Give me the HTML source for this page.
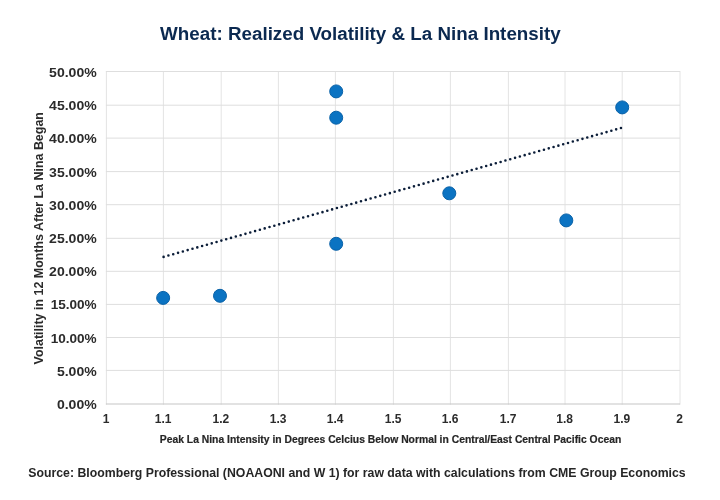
<!DOCTYPE html>
<html><head><meta charset="utf-8"><title>Wheat: Realized Volatility &amp; La Nina Intensity</title>
<style>
html,body{margin:0;padding:0;background:#fff;}
body{width:720px;height:500px;overflow:hidden;}
svg{display:block;}
text{font-family:"Liberation Sans",Arial,sans-serif;font-weight:bold;}
.tick{font-size:12.4px;fill:#2b2b2b;}
.xt{font-size:12px;fill:#2b2b2b;}
</style></head><body>
<svg width="720" height="500" viewBox="0 0 720 500">
<rect width="720" height="500" fill="#fff"/>

<g stroke="#e4e4e4" stroke-width="1" fill="none">
<line x1="106.40" y1="71.00" x2="106.40" y2="404.70"/>
<line x1="163.40" y1="71.00" x2="163.40" y2="404.70"/>
<line x1="221.20" y1="71.00" x2="221.20" y2="404.70"/>
<line x1="278.40" y1="71.00" x2="278.40" y2="404.70"/>
<line x1="335.40" y1="71.00" x2="335.40" y2="404.70"/>
<line x1="393.40" y1="71.00" x2="393.40" y2="404.70"/>
<line x1="450.40" y1="71.00" x2="450.40" y2="404.70"/>
<line x1="508.40" y1="71.00" x2="508.40" y2="404.70"/>
<line x1="565.00" y1="71.00" x2="565.00" y2="404.70"/>
<line x1="622.20" y1="71.00" x2="622.20" y2="404.70"/>
<line x1="680.00" y1="71.00" x2="680.00" y2="404.70"/>
</g>
<g stroke="#dedede" stroke-width="1" fill="none">
<line x1="105.90" y1="370.40" x2="680.00" y2="370.40"/>
<line x1="105.90" y1="337.50" x2="680.00" y2="337.50"/>
<line x1="105.90" y1="304.40" x2="680.00" y2="304.40"/>
<line x1="105.90" y1="271.30" x2="680.00" y2="271.30"/>
<line x1="105.90" y1="238.30" x2="680.00" y2="238.30"/>
<line x1="105.90" y1="204.70" x2="680.00" y2="204.70"/>
<line x1="105.90" y1="171.60" x2="680.00" y2="171.60"/>
<line x1="105.90" y1="138.10" x2="680.00" y2="138.10"/>
<line x1="105.90" y1="105.20" x2="680.00" y2="105.20"/>
<line x1="105.90" y1="71.50" x2="680.00" y2="71.50"/>
</g>
<line x1="105.90" y1="403.95" x2="680.00" y2="403.95" stroke="#c6c6c6" stroke-width="1.1"/>
<line x1="163.6" y1="256.9" x2="621.0" y2="128.0" stroke="#0b1d38" stroke-width="2.6" stroke-linecap="round" stroke-dasharray="0 5.002"/>
<g fill="#0b73c2" stroke="#0a62a8" stroke-width="1">
<circle cx="163.15" cy="297.90" r="6.5"/>
<circle cx="220.00" cy="295.80" r="6.5"/>
<circle cx="336.20" cy="91.40" r="6.5"/>
<circle cx="336.20" cy="117.70" r="6.5"/>
<circle cx="336.20" cy="243.80" r="6.5"/>
<circle cx="449.30" cy="193.30" r="6.5"/>
<circle cx="566.30" cy="220.40" r="6.5"/>
<circle cx="622.20" cy="107.40" r="6.5"/>
</g>
<text x="360.4" y="39.6" text-anchor="middle" font-size="18" fill="#0b2950" textLength="400.6" lengthAdjust="spacingAndGlyphs">Wheat: Realized Volatility &amp; La Nina Intensity</text>
<text class="tick" x="96.7" y="409.00" text-anchor="end" textLength="39.8" lengthAdjust="spacingAndGlyphs">0.00%</text>
<text class="tick" x="96.7" y="375.79" text-anchor="end" textLength="39.8" lengthAdjust="spacingAndGlyphs">5.00%</text>
<text class="tick" x="96.7" y="342.58" text-anchor="end" textLength="46.0" lengthAdjust="spacingAndGlyphs">10.00%</text>
<text class="tick" x="96.7" y="309.37" text-anchor="end" textLength="46.0" lengthAdjust="spacingAndGlyphs">15.00%</text>
<text class="tick" x="96.7" y="276.16" text-anchor="end" textLength="47.6" lengthAdjust="spacingAndGlyphs">20.00%</text>
<text class="tick" x="96.7" y="242.95" text-anchor="end" textLength="47.6" lengthAdjust="spacingAndGlyphs">25.00%</text>
<text class="tick" x="96.7" y="209.74" text-anchor="end" textLength="47.6" lengthAdjust="spacingAndGlyphs">30.00%</text>
<text class="tick" x="96.7" y="176.53" text-anchor="end" textLength="47.6" lengthAdjust="spacingAndGlyphs">35.00%</text>
<text class="tick" x="96.7" y="143.32" text-anchor="end" textLength="47.6" lengthAdjust="spacingAndGlyphs">40.00%</text>
<text class="tick" x="96.7" y="110.11" text-anchor="end" textLength="47.6" lengthAdjust="spacingAndGlyphs">45.00%</text>
<text class="tick" x="96.7" y="76.90" text-anchor="end" textLength="47.6" lengthAdjust="spacingAndGlyphs">50.00%</text>
<text class="xt" x="106.10" y="422.5" text-anchor="middle">1</text>
<text class="xt" x="163.10" y="422.5" text-anchor="middle">1.1</text>
<text class="xt" x="220.90" y="422.5" text-anchor="middle">1.2</text>
<text class="xt" x="278.10" y="422.5" text-anchor="middle">1.3</text>
<text class="xt" x="335.10" y="422.5" text-anchor="middle">1.4</text>
<text class="xt" x="393.10" y="422.5" text-anchor="middle">1.5</text>
<text class="xt" x="450.10" y="422.5" text-anchor="middle">1.6</text>
<text class="xt" x="508.10" y="422.5" text-anchor="middle">1.7</text>
<text class="xt" x="564.70" y="422.5" text-anchor="middle">1.8</text>
<text class="xt" x="621.90" y="422.5" text-anchor="middle">1.9</text>
<text class="xt" x="679.70" y="422.5" text-anchor="middle">2</text>
<text transform="translate(43.0,238.25) rotate(-90)" text-anchor="middle" font-size="12.2" fill="#2b2b2b" textLength="252.3" lengthAdjust="spacingAndGlyphs">Volatility in 12 Months After La Nina Began</text>
<text x="390.5" y="442.7" text-anchor="middle" font-size="10.5" fill="#262626" stroke="#262626" stroke-width="0.2" textLength="461.4" lengthAdjust="spacingAndGlyphs">Peak La Nina Intensity in Degrees Celcius Below Normal in Central/East Central Pacific Ocean</text>
<text x="28.3" y="476.5" font-size="12.5" fill="#262626" textLength="657.4" lengthAdjust="spacingAndGlyphs">Source: Bloomberg Professional (NOAAONI and W 1) for raw data with calculations from CME Group Economics</text>
</svg></body></html>
